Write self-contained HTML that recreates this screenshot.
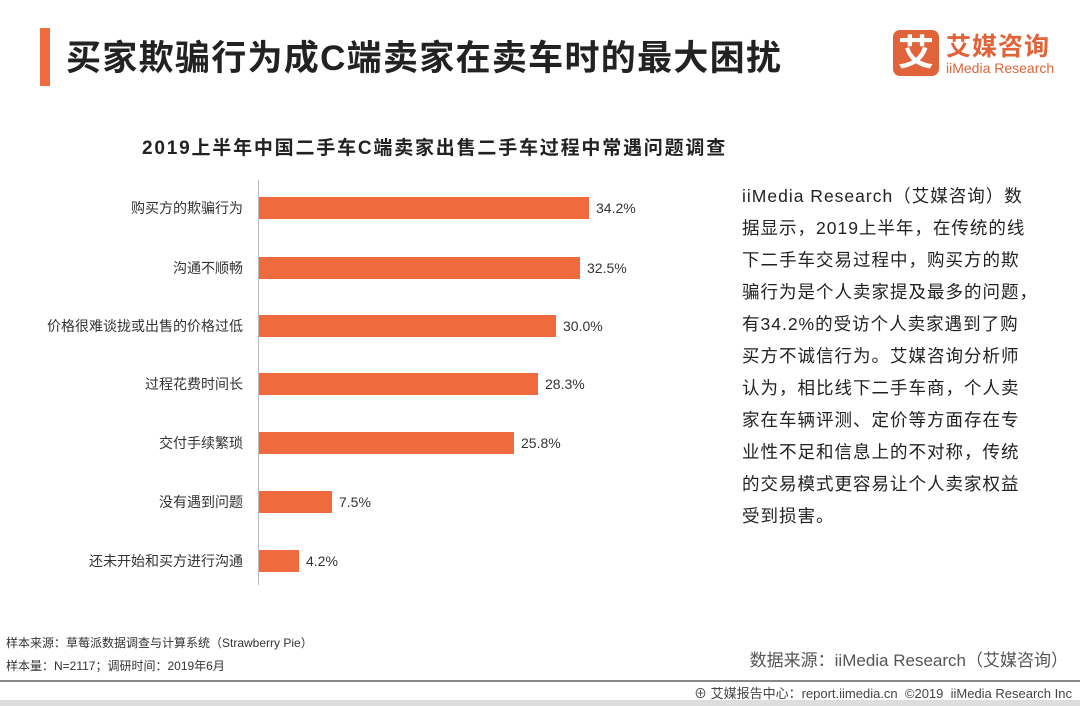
<!DOCTYPE html>
<html><head><meta charset="utf-8"><style>
body{margin:0;width:1080px;height:706px;background:#fff;position:relative;overflow:hidden;font-family:"Liberation Sans","Noto Sans CJK SC",sans-serif;color:#222}
.a{position:absolute;white-space:nowrap}
.bar{position:absolute;left:259px;height:22px;background:#ef6a3c}
.lab{position:absolute;right:837px;font-size:14px;color:#333;white-space:nowrap}
.val{position:absolute;font-size:14px;color:#333}
</style></head><body>
<div class="a" style="left:40px;top:28px;width:10px;height:58px;background:#ef6a3c"></div>
<div class="a" style="left:66px;top:30px;font-size:35px;font-weight:bold;color:#222;letter-spacing:1.3px">买家欺骗行为成C端卖家在卖车时的最大困扰</div>
<div class="a" style="left:893px;top:30px;width:46px;height:46px;background:#e0633a;border-radius:7px;color:#fff;font-size:36px;font-weight:bold;line-height:46px;text-align:center">艾</div>
<div class="a" style="left:946px;top:27px;font-size:25px;font-weight:bold;color:#e0633a;letter-spacing:1px">艾媒咨询</div>
<div class="a" style="left:946px;top:60px;font-size:14px;color:#e0633a">iiMedia Research</div>
<div class="a" style="left:142px;top:133px;font-size:19px;font-weight:bold;color:#222;letter-spacing:1.8px">2019上半年中国二手车C端卖家出售二手车过程中常遇问题调查</div>
<div class="a" style="left:258px;top:180px;width:1px;height:405px;background:#bbb"></div>
<div class="bar" style="top:197px;width:330px"></div><div class="lab" style="top:198px">购买方的欺骗行为</div><div class="val" style="left:596px;top:200px">34.2%</div>
<div class="bar" style="top:257px;width:321px"></div><div class="lab" style="top:258px">沟通不顺畅</div><div class="val" style="left:587px;top:260px">32.5%</div>
<div class="bar" style="top:315px;width:297px"></div><div class="lab" style="top:316px">价格很难谈拢或出售的价格过低</div><div class="val" style="left:563px;top:318px">30.0%</div>
<div class="bar" style="top:373px;width:279px"></div><div class="lab" style="top:374px">过程花费时间长</div><div class="val" style="left:545px;top:376px">28.3%</div>
<div class="bar" style="top:432px;width:255px"></div><div class="lab" style="top:433px">交付手续繁琐</div><div class="val" style="left:521px;top:435px">25.8%</div>
<div class="bar" style="top:491px;width:73px"></div><div class="lab" style="top:492px">没有遇到问题</div><div class="val" style="left:339px;top:494px">7.5%</div>
<div class="bar" style="top:550px;width:40px"></div><div class="lab" style="top:551px">还未开始和买方进行沟通</div><div class="val" style="left:306px;top:553px">4.2%</div>
<div class="a" style="left:742px;top:180px;font-size:17.5px;line-height:32px;color:#222;letter-spacing:1px">iiMedia Research（艾媒咨询）数<br>据显示，2019上半年，在传统的线<br>下二手车交易过程中，购买方的欺<br>骗行为是个人卖家提及最多的问题，<br>有34.2%的受访个人卖家遇到了购<br>买方不诚信行为。艾媒咨询分析师<br>认为，相比线下二手车商，个人卖<br>家在车辆评测、定价等方面存在专<br>业性不足和信息上的不对称，传统<br>的交易模式更容易让个人卖家权益<br>受到损害。</div>
<div class="a" style="left:6px;top:634px;font-size:12px;color:#333">样本来源：草莓派数据调查与计算系统（Strawberry Pie）</div>
<div class="a" style="left:6px;top:657px;font-size:12px;color:#333">样本量：N=2117；调研时间：2019年6月</div>
<div class="a" style="right:12px;top:646px;font-size:17px;color:#555">数据来源：iiMedia Research（艾媒咨询）</div>
<div class="a" style="left:0;top:680px;width:1080px;height:2px;background:#888"></div>
<div class="a" style="right:8px;top:683px;font-size:13px;color:#444">⊕ 艾媒报告中心：report.iimedia.cn &nbsp;©2019 &nbsp;iiMedia Research Inc</div>
<div class="a" style="left:0;top:700px;width:1080px;height:6px;background:#ddd"></div>
</body></html>
